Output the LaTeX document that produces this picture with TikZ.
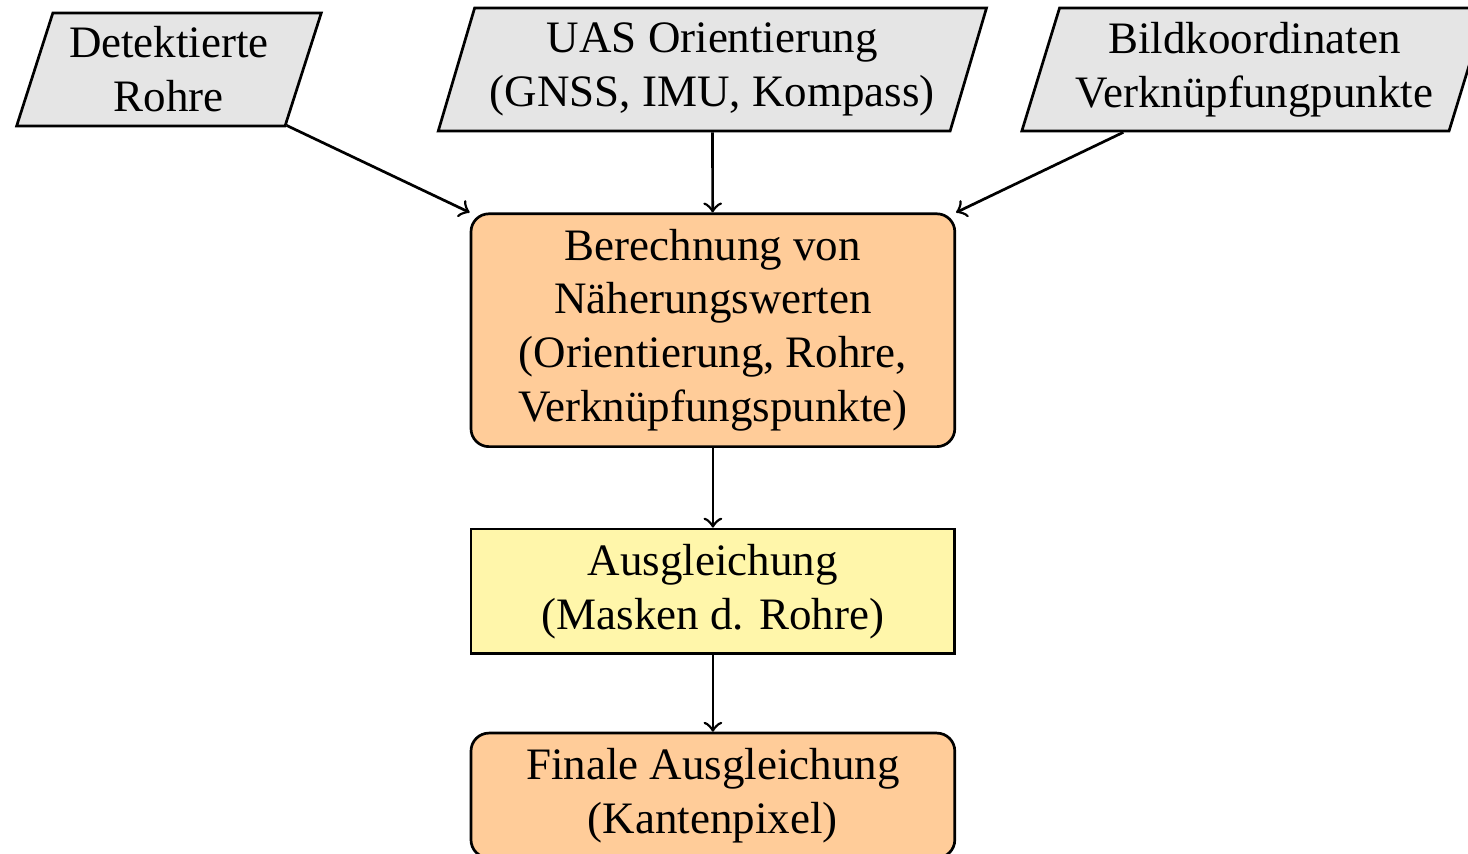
\documentclass[tikz,border=0pt]{standalone}
\usepackage{fontspec}
\setmainfont{Liberation Serif}
\usetikzlibrary{shapes.geometric}

\definecolor{boxgray}{RGB}{229,229,229}
\definecolor{boxorange}{RGB}{255,204,153}
\definecolor{boxyellow}{RGB}{255,246,170}

\begin{document}
\begin{tikzpicture}[semithick,
  eingabe/.style={trapezium, trapezium left angle=70, trapezium right angle=110,
    trapezium stretches=true, draw, fill=boxgray, align=center, inner sep=0pt},
  prozess/.style={draw, rounded corners, fill=boxorange, align=center,
    minimum width=3.78cm},
  ausgl/.style={draw, fill=boxyellow, align=center, minimum width=3.78cm}
]

% Rahmen
\useasboundingbox (0,0) rectangle (11.47,-6.672);

% ------------------- Eingangsdaten -------------------
\node[eingabe, minimum width=2.39cm, minimum height=0.883cm] (rohre)
  at (1.32,-0.543) {Detektierte\\Rohre};
\node[eingabe, minimum width=4.29cm, minimum height=0.96cm] (uas)
  at (5.566,-0.543) {UAS Orientierung\\(GNSS, IMU, Kompass)};
\node[eingabe, minimum width=3.65cm, minimum height=0.96cm] (bild)
  at (9.80,-0.543) {Bildkoordinaten\\Verknüpfungpunkte};

% ------------------- Verarbeitung -------------------
\node[prozess, minimum height=1.8cm] (naeherung) at (5.57,-2.58)
  {Berechnung von\\Näherungswerten\\(Orientierung, Rohre,\\Verknüpfungspunkte)};
\node[ausgl, minimum height=0.945cm] (masken) at (5.57,-4.62)
  {Ausgleichung\\(Masken d. Rohre)};
\node[prozess, minimum height=0.945cm] (final) at (5.57,-6.215)
  {Finale Ausgleichung\\(Kantenpixel)};

% Pfeile
\draw[->] (rohre) -- (naeherung.north west);
\draw[->] (uas) -- (naeherung);
\draw[->] (bild) -- (naeherung.north east);
\draw[->] (naeherung) -- (masken);
\draw[->] (masken) -- (final);

\end{tikzpicture}
\end{document}
